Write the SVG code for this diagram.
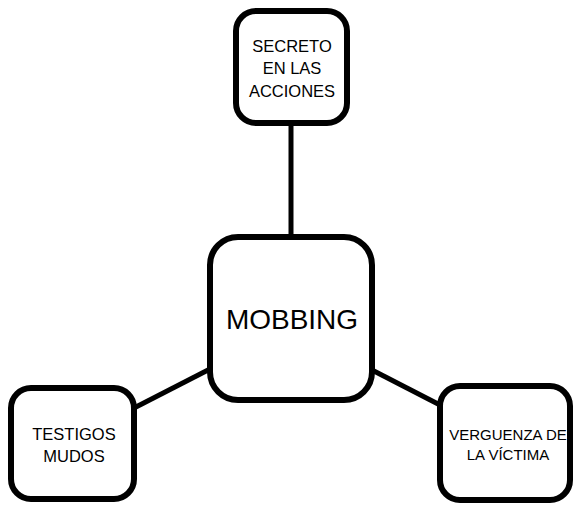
<svg xmlns="http://www.w3.org/2000/svg" width="574" height="505" viewBox="0 0 574 505">
<style>
.box{fill:#fff;stroke:#000;stroke-width:6}
.conn{stroke:#000;stroke-width:5;fill:none}
text{font-family:"Liberation Sans",Arial,sans-serif;fill:#000;text-anchor:middle}
.s{font-size:16.5px}
.v{font-size:15px}
.m{font-size:28px}
</style>
<rect width="574" height="505" fill="#fff"/>
<g id="connectors">
<line class="conn" x1="291" y1="124" x2="291" y2="237"/>
<line class="conn" x1="134" y1="408" x2="210" y2="369"/>
<line class="conn" x1="372" y1="370" x2="440" y2="405"/>
</g>
<g id="node-secreto">
<rect class="box" x="236" y="11" width="111" height="112" rx="20"/>
<text class="s" x="292" y="52">SECRETO</text>
<text class="s" x="292" y="74">EN LAS</text>
<text class="s" x="292" y="97">ACCIONES</text>
</g>
<g id="node-mobbing">
<rect class="box" x="210" y="237" width="162" height="163" rx="28"/>
<text class="m" x="292" y="329">MOBBING</text>
</g>
<g id="node-testigos">
<rect class="box" x="11" y="388" width="123" height="111" rx="20"/>
<text class="s" x="74" y="440">TESTIGOS</text>
<text class="s" x="74" y="462">MUDOS</text>
</g>
<g id="node-verguenza">
<rect class="box" x="440" y="386" width="130" height="114" rx="20"/>
<text class="v" x="508" y="440">VERGUENZA DE</text>
<text class="v" x="508" y="460">LA VÍCTIMA</text>
</g>
</svg>
